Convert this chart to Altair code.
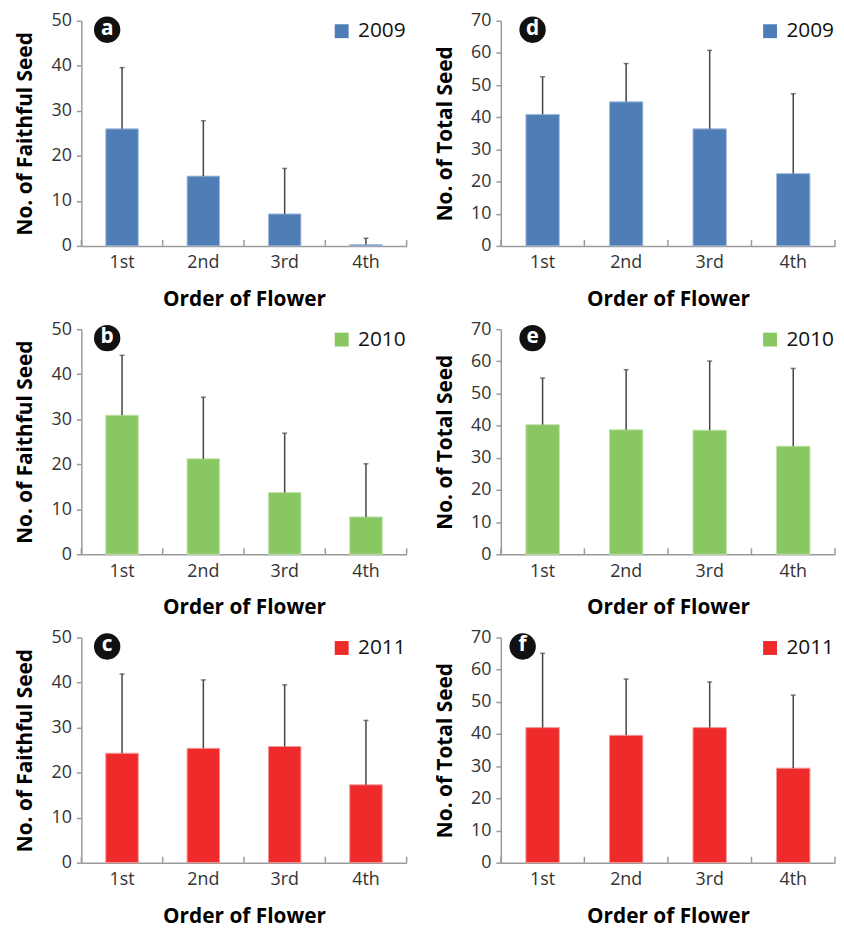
import altair as alt
import pandas as pd

orders = ["1st", "2nd", "3rd", "4th"]

# No. of Faithful Seed (mean and top of error bar)
faith_2009 = [26.0, 15.5, 7.1, 0.3]
faith_2009_top = [39.6, 27.8, 17.2, 1.7]
faith_2010 = [30.9, 21.2, 13.7, 8.3]
faith_2010_top = [44.2, 34.9, 26.9, 20.1]
faith_2011 = [24.3, 25.4, 25.8, 17.3]
faith_2011_top = [41.9, 40.6, 39.5, 31.6]

# No. of Total Seed
total_2009 = [40.9, 44.8, 36.4, 22.5]
total_2009_top = [52.6, 56.7, 60.8, 47.3]
total_2010 = [40.3, 38.7, 38.6, 33.6]
total_2010_top = [54.8, 57.4, 60.1, 57.8]
total_2011 = [42.0, 39.6, 42.0, 29.4]
total_2011_top = [65.1, 57.1, 56.2, 52.1]

FONT = "Open Sans"
H = 227
AX = "#9a9a9a"


def panel(letter, year, color, stroke, ytitle, ymax, means, tops, badge_dx, width):
    df = pd.DataFrame({"order": orders, "mean": means, "top": tops,
                       "year": [year] * len(orders)})
    base = alt.Chart(df)
    xaxis = alt.Axis(title="Order of Flower", labelAngle=0,
                     ticks=False, tickSize=0, labelPadding=8,
                     labelFontSize=18, labelFont=FONT, labelColor="#333333",
                     titleFontSize=21, titleFont=FONT, titleFontWeight="bold",
                     titleColor="#000000", titlePadding=17,
                     domainColor=AX, domainWidth=1.5)
    yaxis = alt.Axis(title=ytitle, values=list(range(0, ymax + 1, 10)),
                     grid=False, tickSize=5, tickColor=AX, tickWidth=1.5,
                     labelPadding=5, labelFontSize=18, labelFont=FONT,
                     labelColor="#333333", minExtent=31, maxExtent=31,
                     labelOverlap=False,
                     titleFontSize=21, titleFont=FONT, titleFontWeight="bold",
                     titleColor="#000000", titlePadding=15,
                     domainColor=AX, domainWidth=1.5)
    xscale = alt.Scale(paddingInner=0, paddingOuter=0)
    yscale = alt.Scale(domain=[0, ymax], nice=False)
    xenc = alt.X("order:N", sort=orders, scale=xscale, axis=xaxis)
    yenc = alt.Y("mean:Q", scale=yscale, axis=yaxis)
    bars = base.mark_bar(width=alt.RelativeBandSize(0.4), stroke=stroke,
                         strokeWidth=1).encode(
        x=xenc, y=yenc,
        color=alt.Color("year:N", scale=alt.Scale(domain=[year], range=[color]),
                        legend=alt.Legend(title=None, orient="top-right", offset=0,
                                          padding=0, symbolType="square",
                                          symbolSize=196, symbolStrokeWidth=0,
                                          labelFontSize=21, labelFont=FONT,
                                          labelColor="#111111", labelOffset=6,
                                          labelLimit=200)))
    err = base.mark_rule(color="#454545", strokeWidth=1.5).encode(
        x=xenc, y=yenc, y2="top:Q")
    cap = base.mark_tick(color="#454545", thickness=1.5, size=5).encode(
        x=xenc, y=alt.Y("top:Q", scale=yscale, axis=yaxis))
    xticks = base.mark_rule(color=AX, strokeWidth=1.5).encode(
        x=alt.X("order:N", sort=orders, scale=xscale, axis=xaxis, bandPosition=0),
        y=alt.value(H), y2=alt.value(H - 6))
    xtick_end = base.transform_filter(
        alt.datum.order == orders[-1]).mark_rule(color=AX, strokeWidth=1.5).encode(
        x=alt.X("order:N", sort=orders, scale=xscale, axis=xaxis, bandPosition=1),
        y=alt.value(H), y2=alt.value(H - 6))
    bdata = alt.Data(values=[{"t": letter}])
    badge = alt.Chart(bdata).mark_circle(size=707, color="#111111", opacity=1).encode(
        x=alt.value(badge_dx), y=alt.value(9))
    btxt = alt.Chart(bdata).mark_text(color="white", fontSize=21, fontWeight="bold",
                                      font=FONT, baseline="middle", dy=-1).encode(
        x=alt.value(badge_dx), y=alt.value(9), text="t:N")
    return alt.layer(bars, err, cap, xticks, xtick_end, badge, btxt).properties(
        width=width, height=H)


LW, RW = 328, 337
BLUE, GREEN, RED = "#4f7db5", "#89c763", "#ee2a2a"

a = panel("a", "2009", BLUE, "#a9c0de", "No. of Faithful Seed", 50, faith_2009, faith_2009_top, 26, LW)
b = panel("b", "2010", GREEN, "#c2e3ad", "No. of Faithful Seed", 50, faith_2010, faith_2010_top, 26, LW)
c = panel("c", "2011", RED, "#f59a9a", "No. of Faithful Seed", 50, faith_2011, faith_2011_top, 26, LW)
d = panel("d", "2009", BLUE, "#a9c0de", "No. of Total Seed", 70, total_2009, total_2009_top, 32, RW)
e = panel("e", "2010", GREEN, "#c2e3ad", "No. of Total Seed", 70, total_2010, total_2010_top, 32, RW)
f = panel("f", "2011", RED, "#f59a9a", "No. of Total Seed", 70, total_2011, total_2011_top, 22, RW)

chart = alt.concat(a, d, b, e, c, f, columns=2, spacing={"row": 84, "column": 95},
                   bounds="flush").resolve_scale(
    x="independent", y="independent", color="independent").resolve_axis(
    x="independent", y="independent").resolve_legend(color="independent").properties(
    padding={"left": 7, "top": 0, "right": 0, "bottom": 0}
).configure_view(stroke=None)

chart.save("out.html", embed_options={"renderer": "svg", "actions": False})
